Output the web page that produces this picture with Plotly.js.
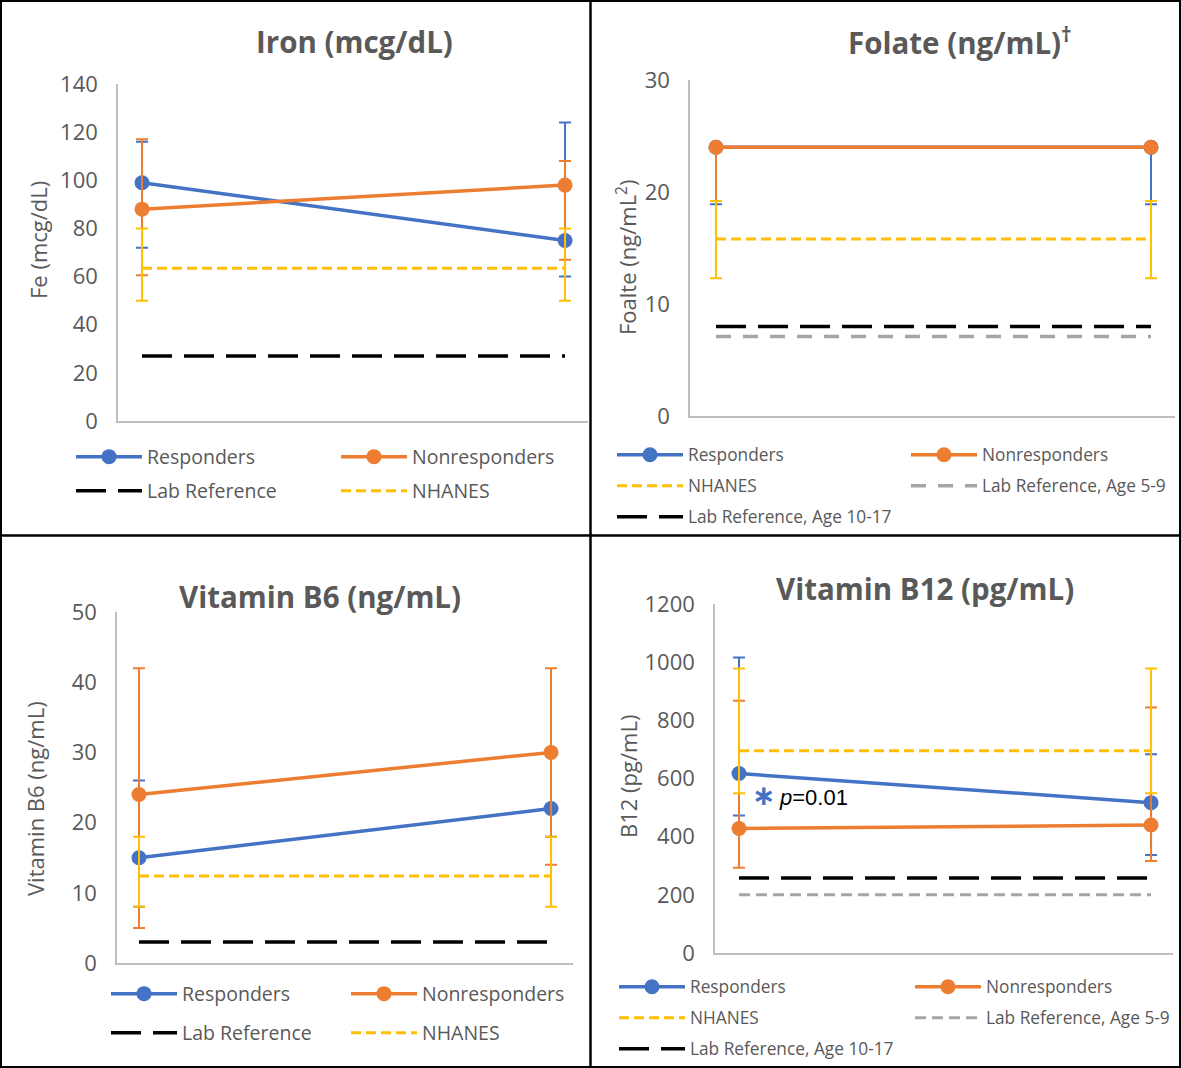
<!DOCTYPE html>
<html>
<head>
<meta charset="utf-8">
<script src="https://cdn.plot.ly/plotly-3.0.1.min.js"></script>
<style>
  html, body { margin: 0; padding: 0; background: #ffffff; overflow: hidden; }
  #chart { width: 1181px; height: 1068px; }
</style>
</head>
<body>
<div id="chart"></div>
<script>
// ---------------- DATA ----------------
const timepoints = [1, 2];

// Iron (mcg/dL)
const ironResp = [99, 75];
const ironRespHi = [116, 124];
const ironRespLo = [72, 60];
const ironNon = [88, 98];
const ironNonHi = [117, 108];
const ironNonLo = [60.5, 67];
const ironNhanes = [63.5, 63.5];
const ironNhanesHi = [80, 80];
const ironNhanesLo = [50, 50];
const ironLab = [27, 27];

// Folate (ng/mL)
const folResp = [24, 24];
const folRespHi = [24, 24];
const folRespLo = [18.9, 18.9];
const folNon = [24, 24];
const folNonHi = [24, 24];
const folNonLo = [19.2, 24];
const folNhanes = [15.8, 15.8];
const folNhanesHi = [19.2, 19.2];
const folNhanesLo = [12.3, 12.3];
const folLab59 = [7.1, 7.1];
const folLab1017 = [8, 8];

// Vitamin B6 (ng/mL)
const b6Resp = [15, 22];
const b6RespHi = [26, 30];
const b6RespLo = [8, 18];
const b6Non = [24, 30];
const b6NonHi = [42, 42];
const b6NonLo = [5, 14];
const b6Nhanes = [12.4, 12.4];
const b6NhanesHi = [18, 18];
const b6NhanesLo = [8, 8];
const b6Lab = [3, 3];

// Vitamin B12 (pg/mL)
const b12Resp = [617, 517];
const b12RespHi = [1016, 683];
const b12RespLo = [473, 337];
const b12Non = [428, 440];
const b12NonHi = [867, 844];
const b12NonLo = [293, 316];
const b12Nhanes = [695, 695];
const b12NhanesHi = [978, 978];
const b12NhanesLo = [549, 549];
const b12Lab59 = [200, 200];
const b12Lab1017 = [258, 258];

// Labels
const panelTitles = ['Iron (mcg/dL)', 'Folate (ng/mL)<sup>†</sup>', 'Vitamin B6 (ng/mL)', 'Vitamin B12 (pg/mL)'];
const axisTitles = ['Fe (mcg/dL)', 'Foalte (ng/mL<sup>2</sup>)', 'Vitamin B6 (ng/mL)', 'B12 (pg/mL)'];
const seriesNames = {
  resp: 'Responders', non: 'Nonresponders', nhanes: 'NHANES',
  lab: 'Lab Reference', lab59: 'Lab Reference, Age 5-9', lab1017: 'Lab Reference, Age 10-17'
};
const pLabel = '<i>p</i>=0.01';

// ---------------- STYLE ----------------
const W = 1181, H = 1068;
const BLUE = '#4472C4', ORANGE = '#ED7D31', YELLOW = '#FFC000', GRAY = '#A5A5A5', BLACK = '#000000';
const TXT = '#595959';
const FONT = 'Open Sans, Noto Sans, DejaVu Sans, sans-serif';
const px = v => v / W;
const py = v => 1 - v / H;
const ITEMW = 66;
// horizontal advance between first and second legend column (px) -> entry width
const colW = adv => adv - (ITEMW + 10) - 5;

function err(vals, hi, lo, color) {
  return {
    type: 'data', symmetric: false,
    array: hi.map((h, i) => h - vals[i]),
    arrayminus: vals.map((v, i) => v - lo[i]),
    color: color, thickness: 2, width: 6, visible: true
  };
}
function mainTrace(name, y, hi, lo, color, xa, ya, leg, rank, lw) {
  const t = {
    type: 'scatter', mode: 'lines+markers', name: name, x: timepoints, y: y,
    xaxis: xa, yaxis: ya, legend: leg, legendrank: rank,
    line: { color: color, width: 3.5 },
    marker: { color: color, size: 15 },
    error_y: err(y, hi, lo, color), cliponaxis: false
  };
  if (lw) t.legendwidth = lw;
  return t;
}
function refTrace(name, y, color, dash, width, xa, ya, leg, rank, lw, hi, lo) {
  const t = {
    type: 'scatter', mode: 'lines', name: name, x: timepoints, y: y,
    xaxis: xa, yaxis: ya, legend: leg, legendrank: rank,
    line: { color: color, width: width, dash: dash }, cliponaxis: false
  };
  if (lw) t.legendwidth = lw;
  if (hi) t.error_y = err(y, hi, lo, color);
  return t;
}

const DASH_LAB = '30px,12px';
const DASH_NH = '10px,5px';
const DASH_G1 = '15px,12px';
const DASH_G2 = '11px,6px';

const data = [
  // Iron
  mainTrace(seriesNames.resp, ironResp, ironRespHi, ironRespLo, BLUE, 'x', 'y', 'legend', 1, colW(265)),
  mainTrace(seriesNames.non, ironNon, ironNonHi, ironNonLo, ORANGE, 'x', 'y', 'legend', 2),
  refTrace(seriesNames.nhanes, ironNhanes, YELLOW, DASH_NH, 3, 'x', 'y', 'legend2', 2, null, ironNhanesHi, ironNhanesLo),
  refTrace(seriesNames.lab, ironLab, BLACK, DASH_LAB, 3.5, 'x', 'y', 'legend2', 1, colW(265)),
  // Folate
  mainTrace(seriesNames.resp, folResp, folRespHi, folRespLo, BLUE, 'x2', 'y2', 'legend3', 1, colW(294)),
  mainTrace(seriesNames.non, folNon, folNonHi, folNonLo, ORANGE, 'x2', 'y2', 'legend3', 2),
  refTrace(seriesNames.nhanes, folNhanes, YELLOW, DASH_NH, 3, 'x2', 'y2', 'legend4', 1, colW(294), folNhanesHi, folNhanesLo),
  refTrace(seriesNames.lab59, folLab59, GRAY, DASH_G1, 3.5, 'x2', 'y2', 'legend4', 2),
  refTrace(seriesNames.lab1017, folLab1017, BLACK, DASH_LAB, 3.5, 'x2', 'y2', 'legend5', 1),
  // B6
  mainTrace(seriesNames.resp, b6Resp, b6RespHi, b6RespLo, BLUE, 'x3', 'y3', 'legend6', 1, colW(240)),
  mainTrace(seriesNames.non, b6Non, b6NonHi, b6NonLo, ORANGE, 'x3', 'y3', 'legend6', 2),
  refTrace(seriesNames.nhanes, b6Nhanes, YELLOW, DASH_NH, 3, 'x3', 'y3', 'legend7', 2, null, b6NhanesHi, b6NhanesLo),
  refTrace(seriesNames.lab, b6Lab, BLACK, DASH_LAB, 3.5, 'x3', 'y3', 'legend7', 1, colW(240)),
  // B12
  mainTrace(seriesNames.resp, b12Resp, b12RespHi, b12RespLo, BLUE, 'x4', 'y4', 'legend8', 1, colW(296)),
  mainTrace(seriesNames.non, b12Non, b12NonHi, b12NonLo, ORANGE, 'x4', 'y4', 'legend8', 2),
  refTrace(seriesNames.nhanes, b12Nhanes, YELLOW, DASH_NH, 3, 'x4', 'y4', 'legend9', 1, colW(296), b12NhanesHi, b12NhanesLo),
  refTrace(seriesNames.lab59, b12Lab59, GRAY, DASH_G2, 3, 'x4', 'y4', 'legend9', 2),
  refTrace(seriesNames.lab1017, b12Lab1017, BLACK, DASH_LAB, 3.5, 'x4', 'y4', 'legend10', 1)
];

function xAxis(dom, range, anchor) {
  return {
    domain: dom, range: range, anchor: anchor, showgrid: false, zeroline: false,
    showticklabels: false, ticks: '', showline: true, linecolor: '#BFBFBF', linewidth: 1.5,
    fixedrange: true, automargin: false
  };
}
function yAxis(dom, range, dtick, anchor) {
  return {
    domain: dom, range: range, dtick: dtick, anchor: anchor, showgrid: false, zeroline: false,
    ticks: '', showline: true, linecolor: '#BFBFBF', linewidth: 1.5,
    tickfont: { family: FONT, size: 22, color: TXT }, ticklabelstandoff: 14,
    fixedrange: true, automargin: false
  };
}

function legendAt(xpx, ypx, size) {
  return {
    x: px(xpx), y: py(ypx), xanchor: 'left', yanchor: 'middle',
    orientation: 'h', bgcolor: 'rgba(0,0,0,0)', borderwidth: 0,
    font: { family: FONT, size: size, color: TXT },
    itemwidth: ITEMW, entrywidthmode: 'pixels',
    traceorder: 'normal', itemclick: false, itemdoubleclick: false
  };
}

const annotations = [];
const titlePos = [[354, 42], [960, 42], [320, 596], [925, 588]];
panelTitles.forEach((t, i) => annotations.push({
  xref: 'paper', yref: 'paper', x: px(titlePos[i][0]), y: py(titlePos[i][1]),
  xanchor: 'center', yanchor: 'middle', showarrow: false,
  text: '<b>' + t + '</b>', font: { family: FONT, size: 29.5, color: TXT }
}));
const axisTitlePos = [[38, 240], [626, 258], [35, 799], [628, 777]];
axisTitles.forEach((t, i) => annotations.push({
  xref: 'paper', yref: 'paper', x: px(axisTitlePos[i][0]), y: py(axisTitlePos[i][1]),
  xanchor: 'center', yanchor: 'middle', showarrow: false, textangle: -90,
  text: t, font: { family: FONT, size: 22, color: TXT }
}));
// significance note in B12 panel
annotations.push({
  xref: 'paper', yref: 'paper', x: px(763), y: py(795), xanchor: 'center', yanchor: 'middle', showarrow: false,
  text: '<b>∗</b>', font: { family: 'DejaVu Sans, sans-serif', size: 28, color: BLUE }
});
annotations.push({
  xref: 'paper', yref: 'paper', x: px(777), y: py(797), xanchor: 'left', yanchor: 'middle', showarrow: false,
  text: pLabel, font: { family: 'Liberation Sans, Arial, sans-serif', size: 22, color: '#000000' }
});

const shapes = [
  { type: 'rect', xref: 'paper', yref: 'paper', x0: 0, x1: 1, y0: 0, y1: 1, line: { color: '#000', width: 4 } },
  { type: 'line', xref: 'paper', yref: 'paper', x0: px(590.5), x1: px(590.5), y0: 0, y1: 1, line: { color: '#000', width: 2.5 } },
  { type: 'line', xref: 'paper', yref: 'paper', x0: 0, x1: 1, y0: py(535.5), y1: py(535.5), line: { color: '#000', width: 2.5 } }
];

const layout = {
  width: W, height: H, margin: { l: 0, r: 0, t: 0, b: 0, autoexpand: false },
  paper_bgcolor: '#ffffff', plot_bgcolor: '#ffffff',
  font: { family: FONT, color: TXT },
  showlegend: true,
  xaxis: xAxis([px(118), px(588)], [0.9432, 2.0543], 'y'),
  yaxis: yAxis([py(421), py(84)], [0, 140], 20, 'x'),
  xaxis2: xAxis([px(690), px(1175)], [0.9402, 2.0552], 'y2'),
  yaxis2: yAxis([py(416), py(80)], [0, 30], 10, 'x2'),
  xaxis3: xAxis([px(117), px(573)], [0.9466, 2.0534], 'y3'),
  yaxis3: yAxis([py(963), py(612)], [0, 50], 10, 'x3'),
  xaxis4: xAxis([px(715), px(1173)], [0.9417, 2.0533], 'y4'),
  yaxis4: yAxis([py(953), py(604)], [0, 1200], 200, 'x4'),
  legend: legendAt(71, 457, 19.5),
  legend2: legendAt(71, 491, 19.5),
  legend3: legendAt(612, 455, 17.3),
  legend4: legendAt(612, 486, 17.3),
  legend5: legendAt(612, 517, 17.3),
  legend6: legendAt(106, 994, 19.5),
  legend7: legendAt(106, 1033, 19.5),
  legend8: legendAt(614, 987, 17.3),
  legend9: legendAt(614, 1018, 17.3),
  legend10: legendAt(614, 1049, 17.3),
  annotations: annotations,
  shapes: shapes
};

Plotly.newPlot('chart', data, layout, { displayModeBar: false, responsive: false });
</script>
</body>
</html>
